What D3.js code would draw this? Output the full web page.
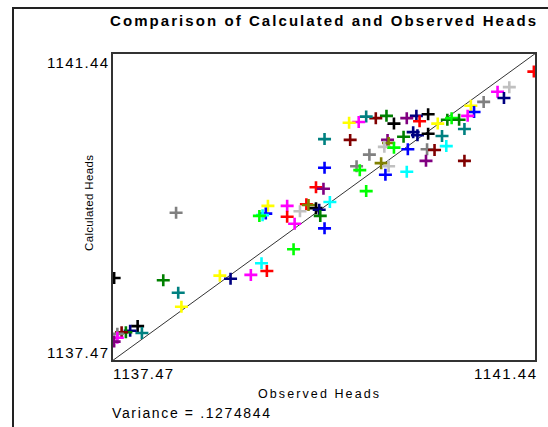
<!DOCTYPE html>
<html><head><meta charset="utf-8">
<script src="https://cdn.jsdelivr.net/npm/d3@7"></script>
<style>body{margin:0;background:#fff;overflow:hidden} svg{display:block}</style>
</head><body>
<script>
const title = "Comparison of Calculated and Observed Heads";
const xLabel = "Observed Heads";
const yLabel = "Calculated Heads";
const varianceText = "Variance = .1274844";
const axisMin = 1137.47, axisMax = 1141.44;
const tickLabels = ["1137.47", "1141.44"];

const observed = [
  1141.42, 1141.19, 1141.08, 1141.14, 1140.95, 1140.83, 1140.86, 1140.80, 1140.61, 1140.65,
  1140.72, 1140.77, 1140.52, 1140.43, 1140.32, 1140.23, 1140.35, 1140.11, 1140.04, 1139.94,
  1139.85, 1139.78, 1139.69, 1139.46, 1139.70, 1140.29, 1140.33, 1140.43, 1140.56, 1140.20,
  1140.05, 1140.06, 1140.02, 1140.11, 1140.24, 1140.42, 1140.49, 1140.60, 1140.41, 1140.77,
  1139.88, 1139.99, 1140.06, 1139.76, 1139.79, 1140.03, 1140.23, 1139.46, 1139.85, 1139.38,
  1139.45, 1139.51, 1139.29, 1139.31, 1139.23, 1139.38, 1139.41, 1139.42, 1139.46, 1138.93,
  1139.11, 1139.11, 1139.18, 1138.91, 1138.88, 1138.85, 1139.17, 1138.07, 1138.87, 1138.92,
  1138.77, 1138.58, 1138.48, 1137.49, 1137.95, 1138.09, 1138.12, 1137.71, 1137.75, 1137.64,
  1137.60, 1137.56, 1137.52, 1137.52, 1137.49
];
const calculated = [
  1141.20, 1141.00, 1140.94, 1140.86, 1140.81, 1140.76, 1140.68, 1140.63, 1140.58, 1140.60,
  1140.58, 1140.46, 1140.53, 1140.65, 1140.63, 1140.60, 1140.56, 1140.53, 1140.63, 1140.60,
  1140.62, 1140.55, 1140.54, 1140.33, 1140.32, 1140.42, 1140.38, 1140.40, 1140.37, 1140.36,
  1140.32, 1140.28, 1140.23, 1140.22, 1140.20, 1140.20, 1140.19, 1140.24, 1140.05, 1140.05,
  1140.13, 1140.02, 1139.98, 1139.98, 1139.93, 1139.87, 1139.91, 1139.96, 1139.66, 1139.71,
  1139.69, 1139.52, 1139.49, 1139.48, 1139.40, 1139.44, 1139.42, 1139.34, 1139.18, 1139.47,
  1139.47, 1139.33, 1139.24, 1139.37, 1139.35, 1139.34, 1138.91, 1139.38, 1138.73, 1138.63,
  1138.58, 1138.53, 1138.57, 1138.54, 1138.51, 1138.35, 1138.17, 1137.92, 1137.83, 1137.86,
  1137.84, 1137.84, 1137.82, 1137.77, 1137.72
];
const colors = [
  "#ff0000", "#c0c0c0", "#ff00ff", "#000080", "#808080", "#ffff00", "#0000ff", "#ff00ff", "#008000", "#00ff00",
  "#008000", "#008080", "#ffff00", "#000000", "#000080", "#800080", "#ff0000", "#000000", "#008000", "#800000",
  "#008080", "#ff00ff", "#ffff00", "#008080", "#800000", "#000080", "#000080", "#000000", "#008080", "#008000",
  "#800080", "#808000", "#c0c0c0", "#00ff00", "#0000ff", "#808080", "#800000", "#00ffff", "#800080", "#800000",
  "#808080", "#808000", "#c0c0c0", "#808080", "#00ff00", "#0000ff", "#00ffff", "#0000ff", "#00ff00", "#ff0000",
  "#800080", "#00ffff", "#ff0000", "#808000", "#c0c0c0", "#000000", "#000080", "#008000", "#0000ff", "#ffff00",
  "#ff00ff", "#ff0000", "#ff00ff", "#0000ff", "#00ffff", "#00ff00", "#00ff00", "#808080", "#00ffff", "#ff0000",
  "#ff00ff", "#000080", "#ffff00", "#000000", "#008000", "#008080", "#ffff00", "#000000", "#008080", "#000080",
  "#008000", "#800000", "#808080", "#ff00ff", "#800080"
];

const W = 548, H = 427;
const box = {left: 112, right: 536, top: 53, bottom: 361};
const svg = d3.select("body").append("svg").attr("width", W).attr("height", H);
const font = "Liberation Sans, Arial, sans-serif";

// window frame
svg.append("path").attr("d", `M13,${H}V8H${W}`).attr("fill", "none")
  .attr("stroke", "#222").attr("stroke-width", 2);

const x = d3.scaleLinear().domain([axisMin, axisMax]).range([box.left, box.right]);
const y = d3.scaleLinear().domain([axisMin, axisMax]).range([box.bottom, box.top]);

svg.append("defs").append("clipPath").attr("id", "clip").append("rect")
  .attr("x", box.left).attr("y", box.top)
  .attr("width", box.right - box.left).attr("height", box.bottom - box.top);

// 1:1 line
svg.append("line").attr("x1", x(axisMin)).attr("y1", y(axisMin))
  .attr("x2", x(axisMax)).attr("y2", y(axisMax))
  .attr("stroke", "#333").attr("stroke-width", 1);

// points
const pts = d3.range(observed.length).map(i => ({o: observed[i], c: calculated[i], col: colors[i]}));
svg.append("g").attr("clip-path", "url(#clip)").selectAll("path").data(pts).join("path")
  .attr("transform", d => `translate(${x(d.o)},${y(d.c)})`)
  .attr("d", "M-6.5,0H6.5M0,-6V6")
  .attr("stroke", d => d.col).attr("stroke-width", 2.6).attr("fill", "none");

// box
svg.append("rect").attr("x", box.left).attr("y", box.top)
  .attr("width", box.right - box.left).attr("height", box.bottom - box.top)
  .attr("fill", "none").attr("stroke", "#333").attr("stroke-width", 2);

// title
svg.append("text").attr("x", 110).attr("y", 26).attr("font-family", font)
  .attr("font-weight", "bold").attr("font-size", 15)
  .attr("textLength", 426).attr("lengthAdjust", "spacing").text(title);

// tick labels
const tf = 15;
svg.append("text").attr("x", 47).attr("y", y(axisMax) + 15).attr("font-family", font).attr("font-size", tf)
  .attr("textLength", 61).attr("lengthAdjust", "spacing").text(tickLabels[1]);
svg.append("text").attr("x", 47).attr("y", y(axisMin) - 3).attr("font-family", font).attr("font-size", tf)
  .attr("textLength", 61).attr("lengthAdjust", "spacing").text(tickLabels[0]);
svg.append("text").attr("x", x(axisMin) + 1).attr("y", 379).attr("font-family", font).attr("font-size", tf)
  .attr("textLength", 60).attr("lengthAdjust", "spacing").text(tickLabels[0]);
svg.append("text").attr("x", x(axisMax) - 62).attr("y", 379).attr("font-family", font).attr("font-size", tf)
  .attr("textLength", 62).attr("lengthAdjust", "spacing").text(tickLabels[1]);

// axis titles
svg.append("text").attr("x", 258).attr("y", 398).attr("font-family", font).attr("font-size", 12.5)
  .attr("textLength", 121).attr("lengthAdjust", "spacing").text(xLabel);
svg.append("text").attr("transform", "translate(93,251) rotate(-90)").attr("font-family", font).attr("font-size", 11.5)
  .attr("textLength", 96).attr("lengthAdjust", "spacing").text(yLabel);

svg.append("text").attr("x", 112).attr("y", 418).attr("font-family", font).attr("font-size", 14)
  .attr("textLength", 158).attr("lengthAdjust", "spacing").text(varianceText);
</script>
</body></html>
